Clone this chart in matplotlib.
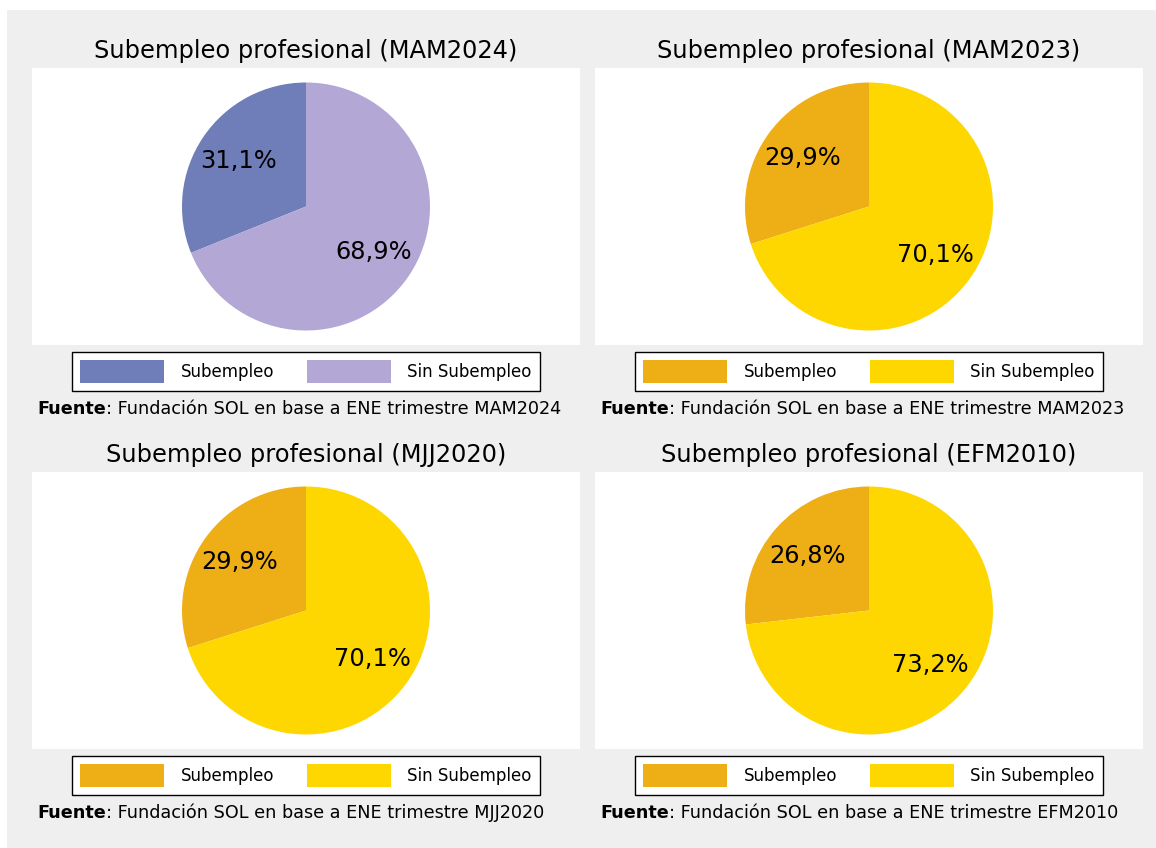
import matplotlib
matplotlib.use("Agg")
import matplotlib.pyplot as plt
from matplotlib.patches import Rectangle

plt.rcParams["font.family"] = ["DejaVu Sans"]

periods = ["MAM2024", "MAM2023", "MJJ2020", "EFM2010"]
categories = ["Subempleo", "Sin Subempleo"]
subempleo = [31.1, 29.9, 29.9, 26.8]
sin_subempleo = [68.9, 70.1, 70.1, 73.2]
palettes = [["#6f7db8", "#b3a7d6"],
            ["#eeae16", "#fed700"],
            ["#eeae16", "#fed700"],
            ["#eeae16", "#fed700"]]

W, H = 1156, 848
fig = plt.figure(figsize=(W / 100, H / 100), dpi=100)
fig.patch.set_facecolor("white")
fig.add_artist(Rectangle((7 / W, 0), 1 - 7 / W, 1 - 10 / H, transform=fig.transFigure,
                         facecolor="#efefef", edgecolor="none", zorder=-10))

lefts = [32, 595, 32, 595]
tops = [68, 68, 472, 472]
aw, ah = 548, 277
radius_px = 124

for i, per in enumerate(periods):
    l, t = lefts[i], tops[i]
    ax = fig.add_axes([l / W, 1 - (t + ah) / H, aw / W, ah / H])
    vals = [subempleo[i], sin_subempleo[i]]
    wedges, _, autotexts = ax.pie(vals, colors=palettes[i], startangle=90, counterclock=True,
                                  autopct=lambda p: f"{p:.1f}%".replace(".", ","),
                                  pctdistance=0.66, textprops=dict(fontsize=17.4, color="black"))
    ax.set_aspect("auto")
    ax.set_xlim(-aw / 2 / radius_px, aw / 2 / radius_px)
    ax.set_ylim(-ah / 2 / radius_px, ah / 2 / radius_px)
    ax.set_frame_on(True)
    for s in ax.spines.values():
        s.set_visible(False)
    ax.set_facecolor("white")
    ax.set_xticks([])
    ax.set_yticks([])
    ax.set_title(f"Subempleo profesional ({per})", fontsize=17.4, pad=7)
    leg = ax.legend(wedges, categories, loc="upper center", bbox_to_anchor=(0.5, -7 / ah),
                    ncol=2, borderaxespad=0, fontsize=12, handlelength=5.0, handleheight=1.71,
                    handletextpad=1.0, columnspacing=2.0, borderpad=0.5,
                    fancybox=False, framealpha=1, edgecolor="black")
    leg.get_frame().set_linewidth(1.0)
    ty = 1 - (t + ah + 64) / H
    t1 = fig.text((l + 5) / W, ty, "Fuente", fontsize=12.7, fontweight="bold", va="center")
    ax.annotate(f": Fundación SOL en base a ENE trimestre {per}", xy=(1, 0), xycoords=t1,
                va="bottom", ha="left", fontsize=12.7, annotation_clip=False)

fig.savefig("out.png", dpi=100, facecolor=fig.get_facecolor())
